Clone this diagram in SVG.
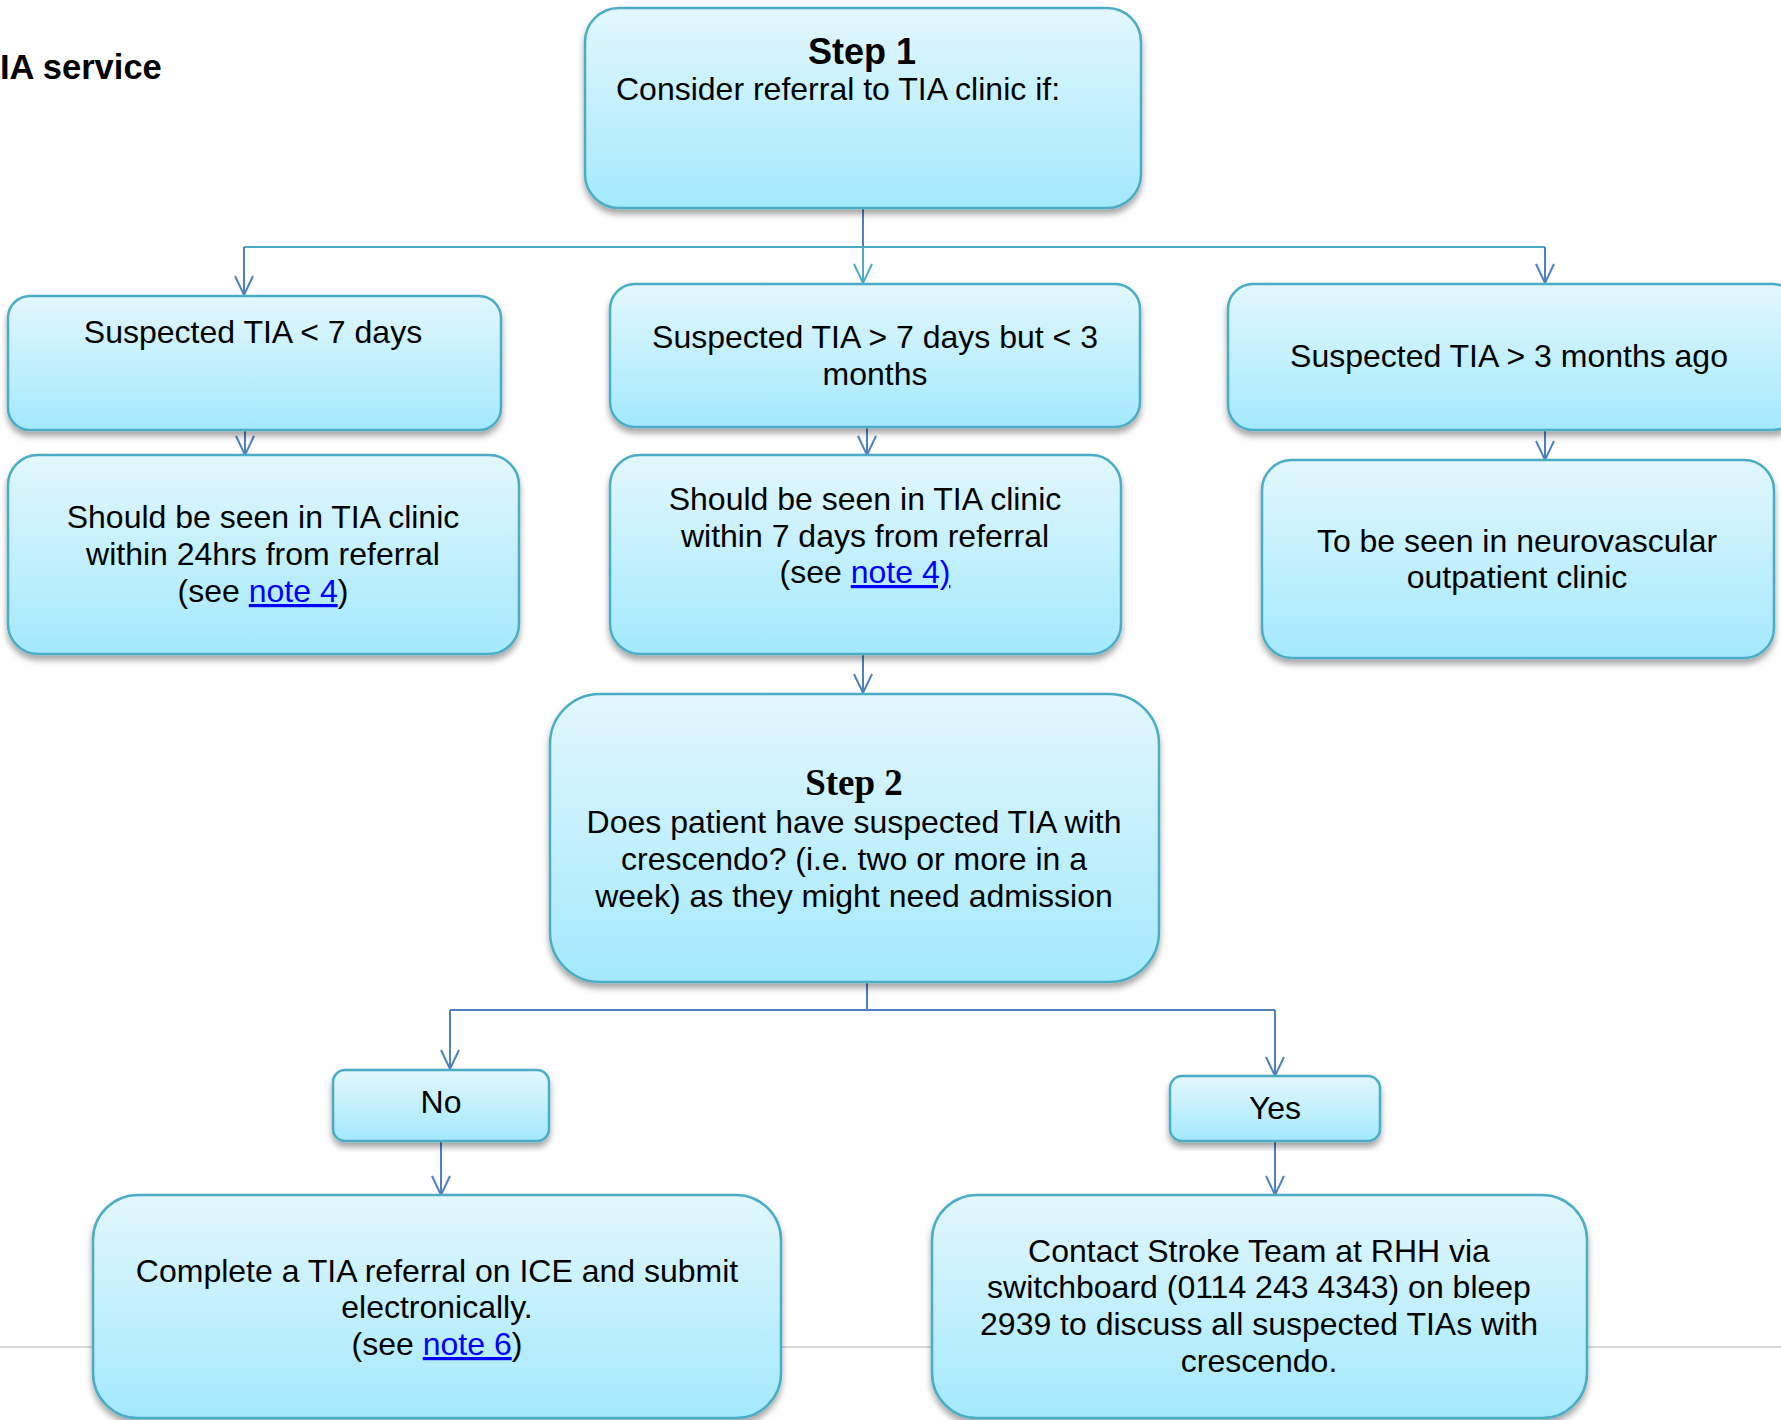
<svg xmlns="http://www.w3.org/2000/svg" width="1781" height="1420" viewBox="0 0 1781 1420">
<style>
.box{fill:url(#g);stroke:#4bacc6;stroke-width:2.5;filter:url(#sh)}
.t{font-family:"Liberation Sans",Arial,sans-serif;font-size:32px;fill:#000;text-anchor:middle}
.b{font-weight:bold;font-size:36px}
.s2{font-family:"Liberation Serif","Times New Roman",serif;font-weight:bold;font-size:37px}
.lk{fill:#0000ff;text-decoration:underline}
.c{fill:none;stroke:#4f81bd;stroke-width:2}
.ct{fill:none;stroke:#4bacc6;stroke-width:2}
</style>
<defs>
<linearGradient id="g" x1="0" y1="0" x2="0" y2="1">
<stop offset="0" stop-color="#e3f7fd"/>
<stop offset="1" stop-color="#a3e9fd"/>
</linearGradient>
<filter id="sh" x="-5%" y="-5%" width="110%" height="120%">
<feDropShadow dx="0" dy="5" stdDeviation="3" flood-color="#000" flood-opacity="0.35"/>
</filter>
<marker id="ar" viewBox="-20 -11 22 22" markerWidth="22" markerHeight="22" refX="0" refY="0" orient="auto" markerUnits="userSpaceOnUse" overflow="visible">
<path d="M-19,-9 L0,0 L-19,9" fill="none" stroke="#4f81bd" stroke-width="2"/>
</marker>
<marker id="art" viewBox="-20 -11 22 22" markerWidth="22" markerHeight="22" refX="0" refY="0" orient="auto" markerUnits="userSpaceOnUse" overflow="visible">
<path d="M-19,-9 L0,0 L-19,9" fill="none" stroke="#4bacc6" stroke-width="2"/>
</marker>
</defs>
<rect width="1781" height="1420" fill="#fff"/>
<line x1="0" y1="1347" x2="1781" y2="1347" stroke="#d9d9d9" stroke-width="2"/>
<text x="0" y="79" style="font-family:'Liberation Sans',Arial,sans-serif;font-weight:bold;font-size:34.5px">IA service</text>
<g id="connectors">
<line class="c" x1="863" y1="208" x2="863" y2="247"/>
<line class="ct" x1="244" y1="247" x2="1545" y2="247"/>
<line class="c" x1="244" y1="247" x2="244" y2="295" marker-end="url(#ar)"/>
<line class="ct" x1="863" y1="247" x2="863" y2="283" marker-end="url(#art)"/>
<line class="c" x1="1545" y1="247" x2="1545" y2="283" marker-end="url(#ar)"/>
<line class="c" x1="245" y1="430" x2="245" y2="455" marker-end="url(#ar)"/>
<line class="c" x1="867" y1="427" x2="867" y2="455" marker-end="url(#ar)"/>
<line class="c" x1="1545" y1="430" x2="1545" y2="460" marker-end="url(#ar)"/>
<line class="c" x1="863" y1="654" x2="863" y2="693" marker-end="url(#ar)"/>
<line class="c" x1="867" y1="982" x2="867" y2="1010"/>
<line class="c" x1="450" y1="1010" x2="1275" y2="1010"/>
<line class="c" x1="450" y1="1010" x2="450" y2="1069" marker-end="url(#ar)"/>
<line class="c" x1="1275" y1="1010" x2="1275" y2="1076" marker-end="url(#ar)"/>
<line class="c" x1="441" y1="1141" x2="441" y2="1195" marker-end="url(#ar)"/>
<line class="c" x1="1275" y1="1141" x2="1275" y2="1195" marker-end="url(#ar)"/>
</g>
<g id="step1">
<rect class="box" x="585" y="8" width="556" height="200" rx="34"/>
<text class="t b" x="862" y="64">Step 1</text>
<text class="t" x="616" y="100" style="text-anchor:start">Consider referral to TIA clinic if:</text>
</g>
<g id="a1">
<rect class="box" x="8" y="296" width="493" height="134" rx="22"/>
<text class="t" x="253" y="343">Suspected TIA &lt; 7 days</text>
</g>
<g id="a2">
<rect class="box" x="610" y="284" width="530" height="143" rx="25"/>
<text class="t" x="875" y="348">Suspected TIA &gt; 7 days but &lt; 3</text>
<text class="t" x="875" y="385">months</text>
</g>
<g id="a3">
<rect class="box" x="1228" y="284" width="570" height="146" rx="25"/>
<text class="t" x="1509" y="367">Suspected TIA &gt; 3 months ago</text>
</g>
<g id="b1">
<rect class="box" x="8" y="455" width="511" height="199" rx="30"/>
<text class="t" x="263" y="528">Should be seen in TIA clinic</text>
<text class="t" x="263" y="565">within 24hrs from referral</text>
<text class="t" x="263" y="602">(see <tspan class="lk">note 4</tspan>)</text>
</g>
<g id="b2">
<rect class="box" x="610" y="455" width="511" height="199" rx="30"/>
<text class="t" x="865" y="510">Should be seen in TIA clinic</text>
<text class="t" x="865" y="547">within 7 days from referral</text>
<text class="t" x="865" y="583">(see <tspan class="lk">note 4)</tspan></text>
</g>
<g id="b3">
<rect class="box" x="1262" y="460" width="512" height="198" rx="30"/>
<text class="t" x="1517" y="552">To be seen in neurovascular</text>
<text class="t" x="1517" y="588">outpatient clinic</text>
</g>
<g id="step2">
<rect class="box" x="550" y="694" width="609" height="288" rx="50"/>
<text class="t s2" x="854" y="795">Step 2</text>
<text class="t" x="854" y="833">Does patient have suspected TIA with</text>
<text class="t" x="854" y="870">crescendo? (i.e. two or more in a</text>
<text class="t" x="854" y="907">week) as they might need admission</text>
</g>
<g id="no">
<rect class="box" x="333" y="1070" width="216" height="71" rx="12"/>
<text class="t" x="441" y="1113">No</text>
</g>
<g id="yes">
<rect class="box" x="1170" y="1076" width="210" height="65" rx="12"/>
<text class="t" x="1275" y="1119">Yes</text>
</g>
<g id="c1">
<rect class="box" x="93" y="1195" width="688" height="223" rx="45"/>
<text class="t" x="437" y="1282">Complete a TIA referral on ICE and submit</text>
<text class="t" x="437" y="1318">electronically.</text>
<text class="t" x="437" y="1355">(see <tspan class="lk">note 6</tspan>)</text>
</g>
<g id="c2">
<rect class="box" x="932" y="1195" width="655" height="223" rx="45"/>
<text class="t" x="1259" y="1262">Contact Stroke Team at RHH via</text>
<text class="t" x="1259" y="1298">switchboard (0114 243 4343) on bleep</text>
<text class="t" x="1259" y="1335">2939 to discuss all suspected TIAs with</text>
<text class="t" x="1259" y="1372">crescendo.</text>
</g>
</svg>
